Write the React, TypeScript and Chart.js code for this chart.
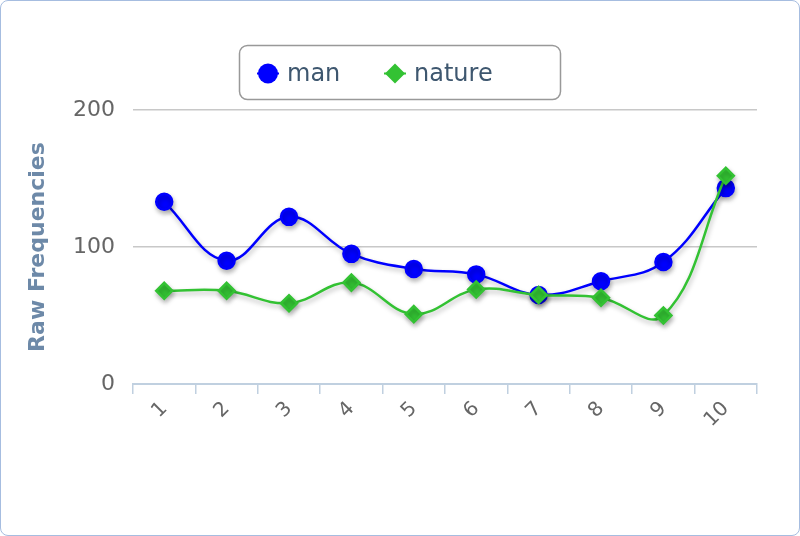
import React, { useEffect, useRef } from "react";
import { Chart, registerables } from "chart.js";

Chart.register(...registerables);

const categories = ["1", "2", "3", "4", "5", "6", "7", "8", "9", "10"];
const manValues = [133, 90, 122, 95, 84, 80, 65, 75, 89, 143];
const natureValues = [68, 68, 59, 74, 51, 69, 65, 63, 50, 152];
const yTicks = [0, 100, 200];
const yTitle = "Raw Frequencies";

const FONT = "'DejaVu Sans', Verdana, sans-serif";

const shadowPlugin = {
  id: "lineShadow",
  beforeDatasetDraw(chart: any) {
    const ctx = chart.ctx;
    ctx.save();
    ctx.shadowColor = "rgba(0,0,0,0.28)";
    ctx.shadowBlur = 5;
    ctx.shadowOffsetX = 1;
    ctx.shadowOffsetY = 3;
  },
  afterDatasetDraw(chart: any) {
    chart.ctx.restore();
  },
};

const legendPlugin = {
  id: "boxLegend",
  afterDraw(chart: any) {
    const ctx = chart.ctx;
    const boxX = 238.5, boxY = 44.5, boxW = 321, boxH = 54, r = 8;
    ctx.save();
    ctx.beginPath();
    ctx.moveTo(boxX + r, boxY);
    ctx.lineTo(boxX + boxW - r, boxY);
    ctx.arcTo(boxX + boxW, boxY, boxX + boxW, boxY + r, r);
    ctx.lineTo(boxX + boxW, boxY + boxH - r);
    ctx.arcTo(boxX + boxW, boxY + boxH, boxX + boxW - r, boxY + boxH, r);
    ctx.lineTo(boxX + r, boxY + boxH);
    ctx.arcTo(boxX, boxY + boxH, boxX, boxY + boxH - r, r);
    ctx.lineTo(boxX, boxY + r);
    ctx.arcTo(boxX, boxY, boxX + r, boxY, r);
    ctx.closePath();
    ctx.fillStyle = "#ffffff";
    ctx.fill();
    ctx.lineWidth = 1.5;
    ctx.strokeStyle = "#999999";
    ctx.stroke();

    ctx.font = `24px ${FONT}`;
    ctx.textBaseline = "middle";
    const cy = boxY + boxH / 2 + 1;
    const starts = [267, 394];
    chart.data.datasets.forEach((ds: any, i: number) => {
      const cx = starts[i];
      ctx.fillStyle = ds.pointBackgroundColor;
      ctx.strokeStyle = ds.borderColor;
      ctx.lineWidth = 2;
      ctx.beginPath();
      ctx.moveTo(cx - 11, cy);
      ctx.lineTo(cx + 11, cy);
      ctx.stroke();
      ctx.beginPath();
      if (ds.pointStyle === "rectRot") {
        const rr = 10;
        ctx.moveTo(cx, cy - rr);
        ctx.lineTo(cx + rr, cy);
        ctx.lineTo(cx, cy + rr);
        ctx.lineTo(cx - rr, cy);
        ctx.closePath();
      } else {
        ctx.arc(cx, cy, 10, 0, Math.PI * 2);
      }
      ctx.fill();
      ctx.fillStyle = "#3e576f";
      ctx.textAlign = "left";
      ctx.fillText(ds.label, cx + 19, cy + 1);
    });
    ctx.restore();
  },
};

export default function App() {
  const ref = useRef<HTMLCanvasElement | null>(null);

  useEffect(() => {
    document.body.style.margin = "0";
    const canvas = ref.current!;
    const chart = new Chart(canvas, {
      type: "line",
      data: {
        labels: categories,
        datasets: [
          {
            label: "man",
            data: manValues,
            borderColor: "#0000ff",
            backgroundColor: "#0000ff",
            pointBackgroundColor: "#0000ff",
            pointBorderColor: "#0000ff",
            pointStyle: "circle",
            pointRadius: 8,
            borderWidth: 2.5,
            tension: 0.4,
            fill: false,
            order: 1,
          } as any,
          {
            label: "nature",
            data: natureValues,
            borderColor: "#33c233",
            backgroundColor: "#33c233",
            pointBackgroundColor: "#33c233",
            pointBorderColor: "#33c233",
            pointStyle: "rectRot",
            pointRadius: 8,
            borderWidth: 2.5,
            tension: 0.4,
            fill: false,
            order: 0,
          } as any,
        ],
      },
      options: {
        responsive: false,
        animation: false,
        events: [],
        layout: { padding: { left: 0, right: 42, top: 109, bottom: 0 } },
        plugins: {
          legend: { display: false },
          tooltip: { enabled: false },
        },
        scales: {
          x: {
            offset: true,
            border: { display: true, color: "#c0d0e0", width: 2 },
            grid: {
              display: true,
              drawOnChartArea: false,
              drawTicks: true,
              tickLength: 10,
              color: "#c0d0e0",
              lineWidth: 1.5,
              offset: true,
            },
            ticks: {
              minRotation: 45,
              maxRotation: 45,
              color: "#666666",
              font: { family: FONT, size: 20 },
              padding: 3,
            },
            afterFit: (s: any) => {
              s.height = 151;
            },
          },
          y: {
            min: 0,
            max: 200,
            border: { display: false },
            grid: {
              color: (c: any) => (c.tick && c.tick.value === 0 ? "rgba(0,0,0,0)" : "#c8c8c8"),
              lineWidth: 1.5,
              drawTicks: false,
            },
            afterBuildTicks: (s: any) => {
              s.ticks = yTicks.map((v) => ({ value: v }));
            },
            ticks: {
              color: "#666666",
              font: { family: FONT, size: 22 },
              padding: 18,
            },
            title: {
              display: true,
              text: yTitle,
              color: "#6d89a8",
              font: { family: FONT, size: 22, weight: "bold" },
              padding: { top: 24, bottom: 0 },
            },
            afterFit: (s: any) => {
              s.width = 132;
            },
          },
        },
      },
      plugins: [shadowPlugin, legendPlugin],
    });
    return () => chart.destroy();
  }, []);

  return (
    <div
      style={{
        position: "absolute",
        left: 0,
        top: 0,
        width: 800,
        height: 536,
        boxSizing: "border-box",
        border: "1px solid #a6bde0",
        borderRadius: 8,
        background: "#fff",
        overflow: "hidden",
      }}
    >
      <canvas ref={ref} width={798} height={534} style={{ display: "block" }} />
    </div>
  );
}
